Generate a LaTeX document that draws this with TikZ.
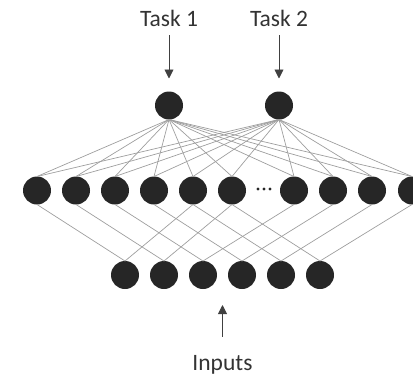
\documentclass[tikz,border=0pt]{standalone}
\usepackage{fontspec}
\setmainfont{Carlito}
\usetikzlibrary{arrows.meta}
\definecolor{nodefill}{HTML}{262626}
\definecolor{linkgray}{HTML}{9E9E9E}
\definecolor{arrowgray}{HTML}{404040}
\definecolor{labelgray}{HTML}{333333}
\begin{document}
\begin{tikzpicture}[x=1pt,y=-1pt,
  neuron/.style={circle, fill=nodefill, minimum size=28pt, inner sep=0pt, outer sep=0pt},
  link/.style={draw=linkgray, line width=0.7pt},
  feed/.style={draw=arrowgray, line width=0.9pt, -{Triangle[length=9pt,width=9pt]}},
  tasktext/.style={text=labelgray, font=\fontsize{23.5}{28}\selectfont, inner sep=0pt, anchor=base}]
\useasboundingbox (0,0) rectangle (413,378);
\clip (0,0) rectangle (413,378);

% output units
\node[neuron] (t1) at (169,105.5) {};
\node[neuron] (t2) at (279,105.5) {};

% shared hidden layer
\foreach \x [count=\i] in {37,76,115,154,193,232,294,333,372,412}
  \node[neuron] (m\i) at (\x,190.5) {};
\foreach \dx in {-6,0,6}
  \fill[nodefill] (264+\dx,189) circle (1.6pt);

% input layer
\foreach \x [count=\i] in {125,164,203,242,281,320}
  \node[neuron] (b\i) at (\x,275) {};

% hidden -> outputs (fully connected)
\foreach \t in {1,2}
  \foreach \m in {1,...,10}
    \draw[link] (t\t.south) -- (m\m.north);

% inputs -> hidden
\foreach \i in {1,...,6} {
  \pgfmathtruncatemacro\j{\i+4}
  \draw[link] (m\i.south) -- (b\i.north);
  \draw[link] (m\j.south) -- (b\i.north);
}

% labels and arrows
\node[tasktext] (task1) at (169,26) {Task 1};
\node[tasktext] (task2) at (279,26) {Task 2};
\node[tasktext] (inputs) at (222.5,370) {Inputs};
\coordinate (inhead) at (222.5,305);

\draw[feed, shorten <=9pt, shorten >=13pt] (task1.south) -- (t1.north);
\draw[feed, shorten <=9pt, shorten >=13pt] (task2.south) -- (t2.north);
\draw[feed, shorten <=18pt] (inputs.north) -- (inhead);
\end{tikzpicture}
\end{document}
